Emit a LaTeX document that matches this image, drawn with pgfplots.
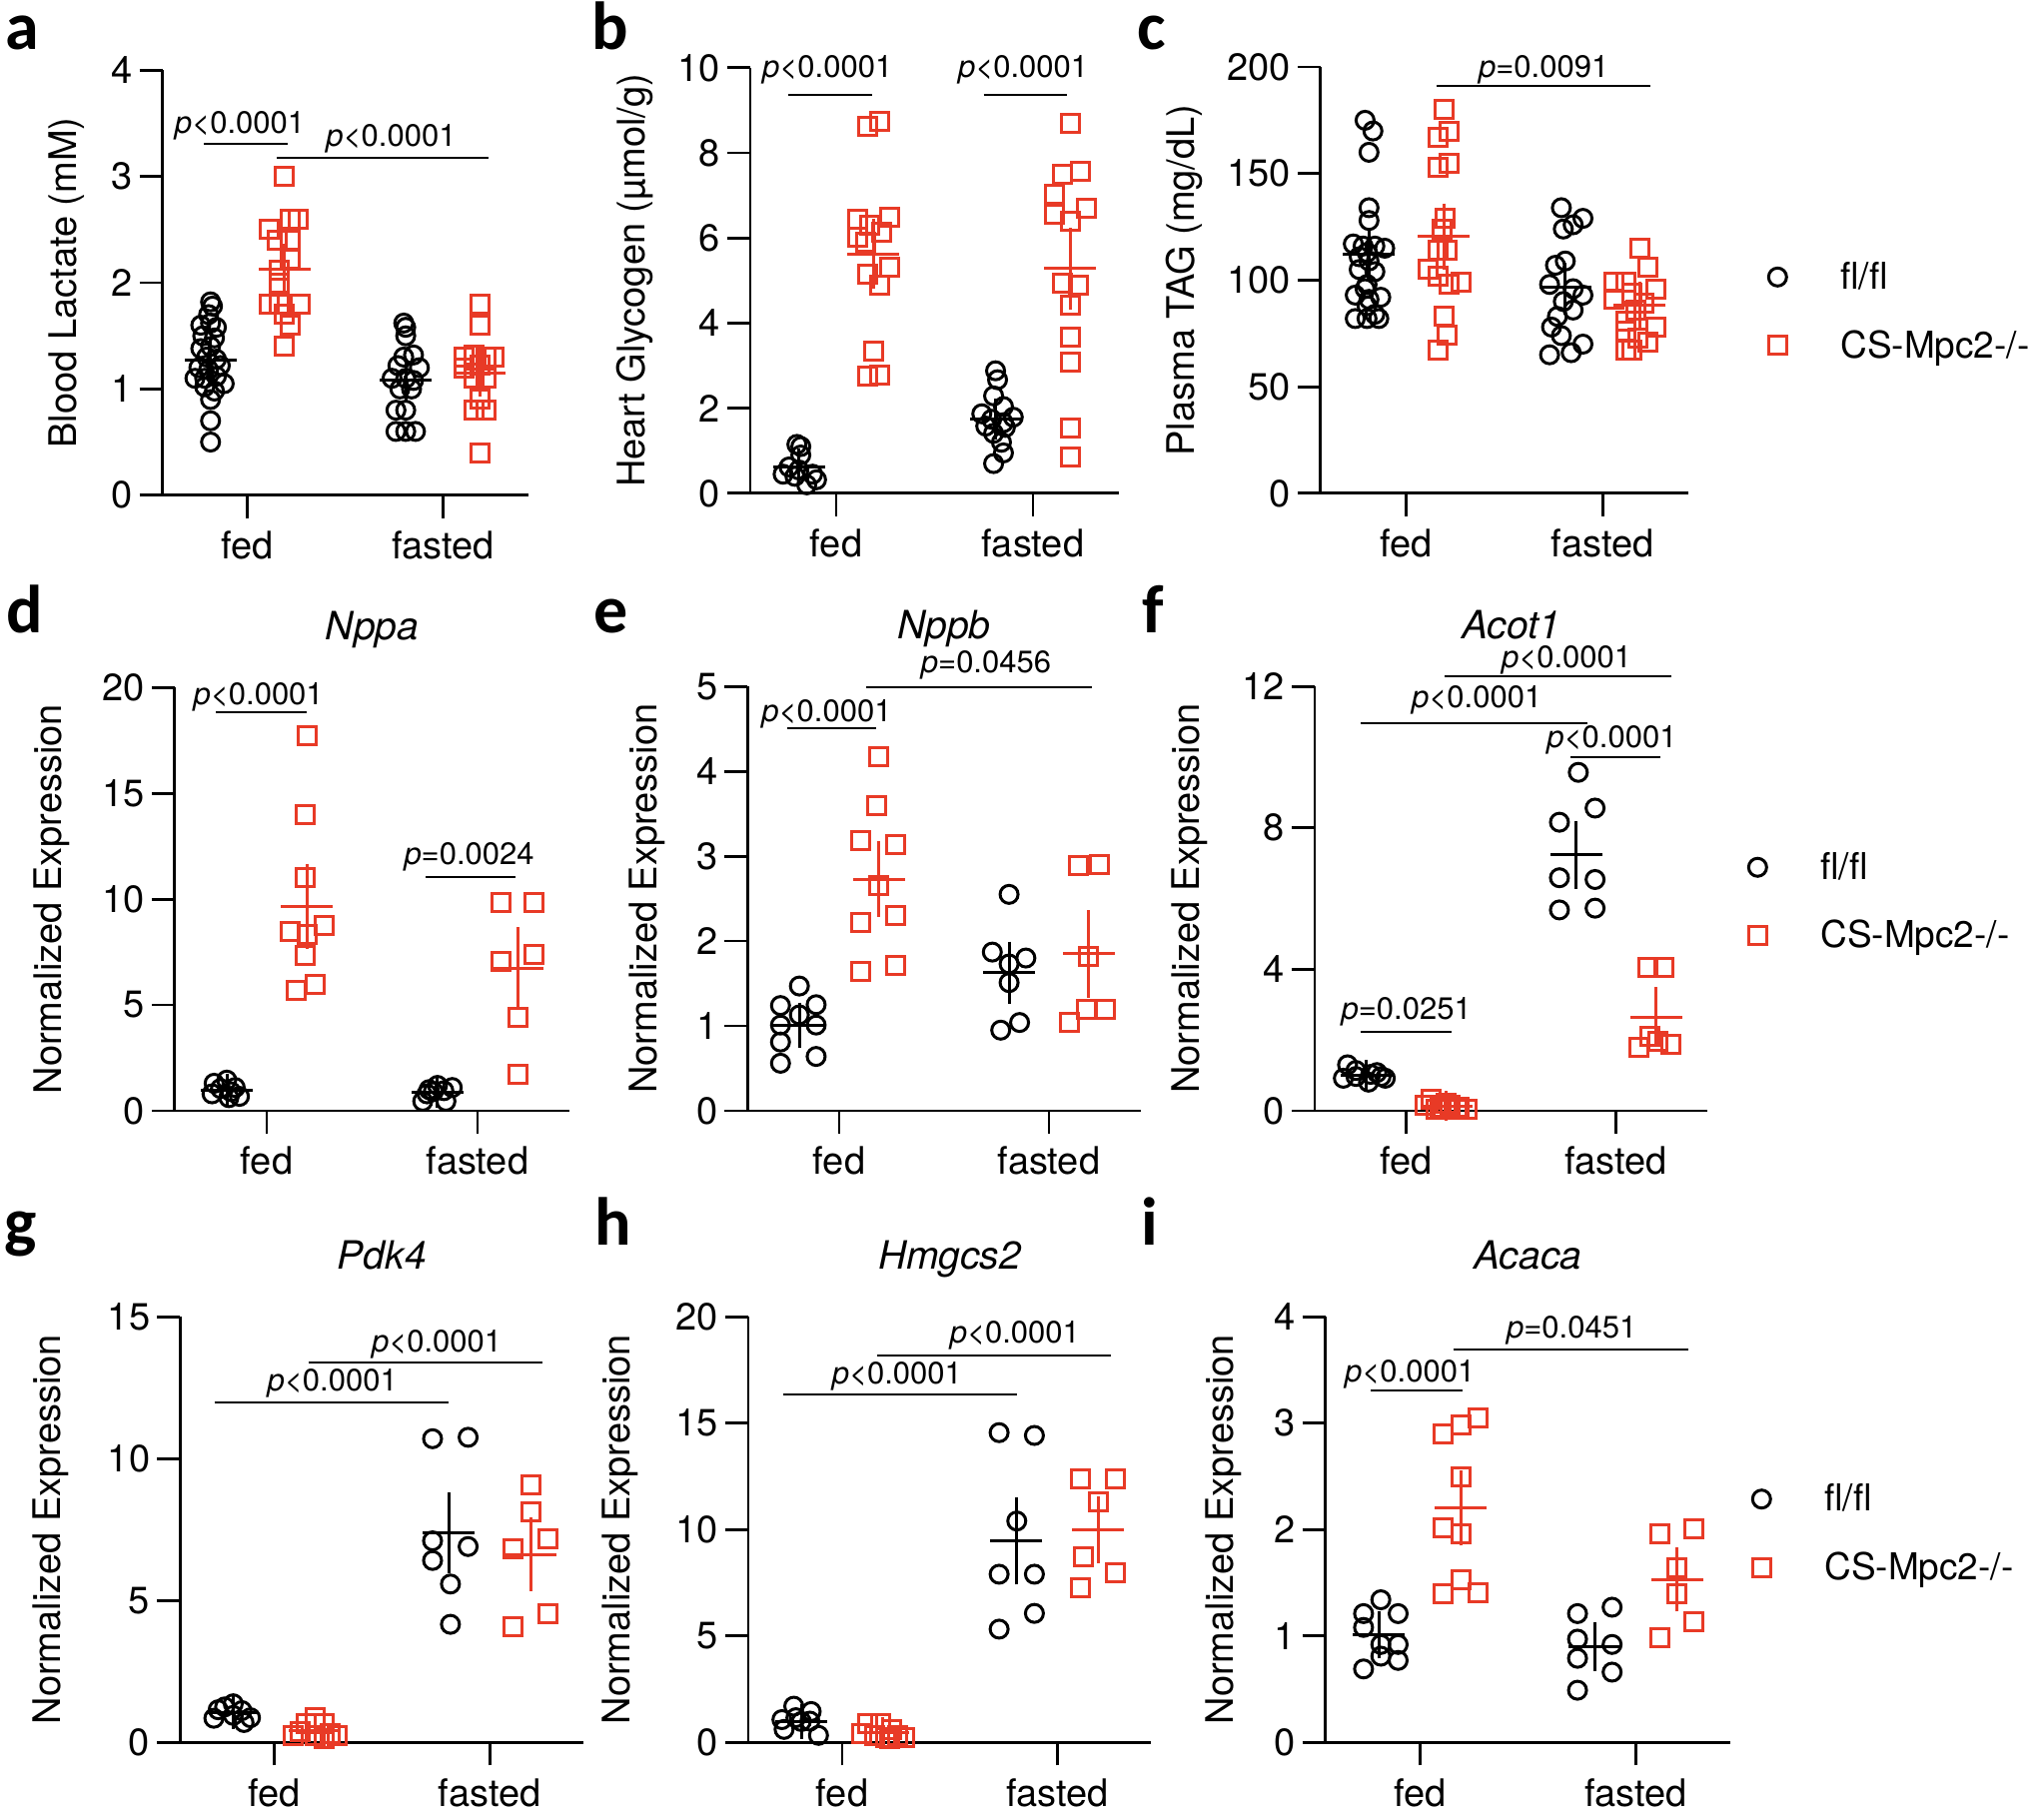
\documentclass[border=0pt]{standalone}
\usepackage{fontspec}
\setmainfont{TeX Gyre Heros}
\newfontfamily\letterfont{Carlito}
\usepackage{pgfplots}
\pgfplotsset{compat=1.18}
\definecolor{ko}{RGB}{232,58,38}
\pgfplotsset{
 panel/.style={scale only axis, anchor=south west, xmin=0.563, xmax=2.437, ymin=0,
  axis lines=left, axis line style={-, line width=1.4pt},
  tick align=outside, major tick length=11.5pt, tick style={line width=1.4pt, black},
  xtick={1,2}, xticklabels={fed,fasted},
  ticklabel style={font=\fontsize{19pt}{22.8pt}\selectfont},
  xticklabel style={yshift=-3pt},
  /pgf/number format/assume math mode=true,
  every axis y label/.style={rotate=90, anchor=base, font=\fontsize{19pt}{22.8pt}\selectfont},
  title style={at={(0.5,1)}, anchor=base, yshift=18pt, font=\itshape\fontsize{19.5pt}{23pt}\selectfont},
  clip=false},
 flfl/.style={only marks, mark=o, mark size=4.5pt, black, mark options={line width=1.5pt},
  legend image code/.code={\draw[mark repeat=2,mark phase=2,##1] plot coordinates {(0pt,0pt)(10pt,0pt)(20pt,0pt)};}},
 kos/.style={only marks, mark=square, mark size=4.5pt, ko, mark options={line width=1.5pt},
  legend image code/.code={\draw[mark repeat=2,mark phase=2,##1] plot coordinates {(0pt,0pt)(10pt,0pt)(20pt,0pt)};}},
 meanbk/.style={forget plot, only marks, mark=-, mark size=13pt, black, mark options={line width=1.5pt},
  error bars/.cd, y dir=both, y explicit, error bar style={line width=1.5pt, black}, error mark=-, error mark options={mark size=7pt, line width=1.5pt, black}},
 meanko/.style={forget plot, only marks, mark=-, mark size=13pt, ko, mark options={line width=1.5pt},
  error bars/.cd, y dir=both, y explicit, error bar style={line width=1.5pt, ko}, error mark=-, error mark options={mark size=7pt, line width=1.5pt, ko}},
 sig/.style={forget plot, black, line width=1pt, mark=none},
 leg/.style={legend style={draw=none, fill=none, inner sep=0pt, anchor=west, at={#1},
  font=\fontsize{18.5pt}{22pt}\selectfont, row sep=15pt, cells={anchor=west},
  /tikz/every odd column/.append style={column sep=25pt}}},
}
\tikzset{ptext/.style={anchor=base, inner sep=0pt, font=\fontsize{15.5pt}{18pt}\selectfont},
 letter/.style={anchor=base west, inner sep=0pt, font=\letterfont\bfseries\fontsize{34pt}{40pt}\selectfont}}
\begin{document}
\begin{tikzpicture}
\path[use as bounding box] (0,0) rectangle (1023pt,908.5pt);
% ---------- a
\begin{axis}[panel, at={(81.25pt,660.65pt)}, width=183.05pt, height=212.65pt, ymax=4, ytick={0,1,2,3,4},
 ylabel={Blood Lactate (mM)}, ylabel style={at={([xshift=-42.75pt]axis description cs:0,0.5)}}]
\addplot[flfl] coordinates {(0.81,1.82) (0.82,1.78) (0.80,1.70) (0.76,1.60) (0.81,1.62) (0.84,1.58) (0.77,1.50) (0.83,1.48) (0.81,1.40) (0.76,1.38) (0.79,1.30) (0.84,1.28) (0.75,1.20) (0.80,1.18) (0.86,1.22) (0.73,1.10) (0.78,1.10) (0.84,1.12) (0.88,1.05) (0.78,1.02) (0.83,0.98) (0.81,0.90) (0.81,0.70) (0.81,0.50)
 (1.80,1.62) (1.81,1.58) (1.81,1.50) (1.80,1.30) (1.85,1.32) (1.88,1.20) (1.77,1.22) (1.74,1.10) (1.81,1.10) (1.85,1.08) (1.78,1.00) (1.84,1.00) (1.81,0.80) (1.76,0.80) (1.81,0.60) (1.76,0.60) (1.86,0.60)};
\addplot[kos] coordinates {(1.19,3.0) (1.26,2.6) (1.22,2.6) (1.11,2.5) (1.15,2.4) (1.22,2.4) (1.22,2.22) (1.16,2.12) (1.16,2.0) (1.11,1.8) (1.16,1.8) (1.27,1.8) (1.19,1.7) (1.22,1.6) (1.19,1.4)
 (2.19,1.80) (2.19,1.60) (2.26,1.30) (2.11,1.30) (2.16,1.32) (2.22,1.30) (2.11,1.20) (2.19,1.22) (2.16,1.10) (2.22,1.10) (2.19,0.90) (2.16,0.80) (2.22,0.80) (2.19,0.40)};
\addplot[meanbk] coordinates {(0.81,1.27) +- (0,0.07) (1.81,1.08) +- (0,0.07)};
\addplot[meanko] coordinates {(1.19,2.13) +- (0,0.11) (2.19,1.15) +- (0,0.09)};
\addplot[sig] coordinates {(0.775,3.31) (1.205,3.31)};
\addplot[sig] coordinates {(1.15,3.18) (2.234,3.18)};
\node[ptext] at (axis cs:0.96,3.41) {\textit{p}<0.0001};
\node[ptext] at (axis cs:1.735,3.28) {\textit{p}<0.0001};
\end{axis}
% ---------- b
\begin{axis}[panel, at={(375.5pt,661.55pt)}, width=184.5pt, height=213pt, ymax=10, ytick={0,2,4,6,8,10},
 ylabel={Heart Glycogen (µmol/g)}, ylabel style={at={([xshift=-53pt]axis description cs:0,0.5)}}]
\addplot[flfl] coordinates {(0.80,1.15) (0.82,1.10) (0.82,0.90) (0.76,0.62) (0.81,0.55) (0.73,0.45) (0.88,0.45) (0.79,0.40) (0.90,0.32) (0.85,0.20)
 (1.81,2.88) (1.82,2.67) (1.80,2.29) (1.85,2.04) (1.74,1.87) (1.90,1.79) (1.79,1.74) (1.85,1.66) (1.76,1.58) (1.86,1.55) (1.80,1.41) (1.84,1.20) (1.85,0.95) (1.80,0.70)};
\addplot[kos] coordinates {(1.22,8.74) (1.16,8.62) (1.27,6.48) (1.11,6.44) (1.17,6.31) (1.23,6.14) (1.11,6.02) (1.15,5.89) (1.27,5.31) (1.16,5.14) (1.22,4.89) (1.19,3.34) (1.22,2.79) (1.16,2.75)
 (2.19,8.70) (2.24,7.57) (2.15,7.49) (2.11,7.03) (2.27,6.69) (2.11,6.56) (2.19,6.40) (2.15,4.93) (2.23,4.89) (2.19,4.43) (2.19,3.67) (2.19,3.08) (2.19,1.53) (2.19,0.86)};
\addplot[meanbk] coordinates {(0.81,0.63) +- (0,0.1) (1.81,1.74) +- (0,0.15)};
\addplot[meanko] coordinates {(1.19,5.63) +- (0,0.5) (2.19,5.28) +- (0,0.63)};
\addplot[sig] coordinates {(0.756,9.37) (1.181,9.37)};
\addplot[sig] coordinates {(1.75,9.37) (2.175,9.37)};
\node[ptext] at (axis cs:0.955,9.77) {\textit{p}<0.0001};
\node[ptext] at (axis cs:1.95,9.77) {\textit{p}<0.0001};
\end{axis}
% ---------- c
\begin{axis}[panel, at={(660.9pt,661.55pt)}, width=184.1pt, height=213.4pt, ymax=200, ytick={0,50,100,150,200},
 ylabel={Plasma TAG (mg/dL)}, ylabel style={at={([xshift=-63pt]axis description cs:0,0.5)}},
 leg={(1.217,0.427)}]
\addplot[flfl] coordinates {(0.79,175) (0.83,170) (0.81,160) (0.81,134) (0.81,128) (0.73,117) (0.78,116) (0.84,116) (0.89,115) (0.80,113) (0.76,111) (0.81,109) (0.76,105) (0.84,104) (0.80,98) (0.79,96) (0.74,93) (0.87,92) (0.81,91) (0.80,88) (0.84,84) (0.74,82) (0.80,82) (0.86,82)
 (1.79,134) (1.90,129) (1.85,126) (1.80,124) (1.81,109) (1.76,107) (1.73,98) (1.85,96) (1.90,93) (1.80,90) (1.85,86) (1.77,83) (1.74,78) (1.79,74) (1.90,70) (1.73,65) (1.84,66)};
\addplot[kos] coordinates {(1.19,180) (1.22,170) (1.16,167) (1.22,155) (1.16,153) (1.20,129) (1.18,124) (1.21,114) (1.16,114) (1.11,105) (1.16,102) (1.28,99) (1.22,98) (1.19,83) (1.21,74) (1.16,67)
 (2.19,115) (2.23,106) (2.06,99) (2.12,99) (2.27,96) (2.15,94) (2.06,91) (2.21,89) (2.17,86) (2.12,81) (2.27,78) (2.12,76) (2.23,71) (2.18,73) (2.15,67) (2.12,67)};
\addlegendentry{fl/fl}
\addlegendentry{CS-Mpc2-/-}
\addplot[meanbk] coordinates {(0.81,112) +- (0,4.5) (1.81,96.7) +- (0,5)};
\addplot[meanko] coordinates {(1.19,120.5) +- (0,9) (2.19,88.4) +- (0,4.5)};
\addplot[sig] coordinates {(1.155,191) (2.245,191)};
\node[ptext] at (axis cs:1.7,195) {\textit{p}=0.0091};
\end{axis}
% ---------- d
\begin{axis}[panel, at={(87.45pt,352.5pt)}, width=197.65pt, height=211.85pt, ymax=20, ytick={0,5,10,15,20},
 title={Nppa}, ylabel={Normalized Expression}, ylabel style={at={([xshift=-56.85pt]axis description cs:0,0.5)}}]
\addplot[flfl] coordinates {(0.81,1.45) (0.75,1.30) (0.85,1.10) (0.78,1.05) (0.83,0.90) (0.74,0.80) (0.87,0.68) (0.82,0.62)
 (1.81,1.20) (1.88,1.10) (1.77,1.00) (1.84,0.95) (1.79,0.90) (1.76,0.80) (1.74,0.45) (1.85,0.45)};
\addplot[kos] coordinates {(1.19,17.74) (1.18,14.0) (1.18,11.02) (1.11,8.49) (1.27,8.76) (1.19,8.31) (1.18,7.32) (1.23,5.96) (1.14,5.69)
 (2.11,9.85) (2.27,9.85) (2.11,7.08) (2.27,7.41) (2.19,4.43) (2.19,1.72)};
\addplot[meanbk] coordinates {(0.81,0.99) +- (0,0.1) (1.81,0.88) +- (0,0.1)};
\addplot[meanko] coordinates {(1.19,9.67) +- (0,1.35) (2.19,6.72) +- (0,1.3)};
\addplot[sig] coordinates {(0.759,18.83) (1.188,18.83)};
\addplot[sig] coordinates {(1.754,11.06) (2.182,11.06)};
\node[ptext] at (axis cs:0.96,19.2) {\textit{p}<0.0001};
\node[ptext] at (axis cs:1.96,11.65) {\textit{p}=0.0024};
\end{axis}
% ---------- e
\begin{axis}[panel, at={(374.15pt,352.5pt)}, width=196.7pt, height=212.4pt, ymax=5, ytick={0,1,2,3,4,5},
 title={Nppb}, ylabel={Normalized Expression}, ylabel style={at={([xshift=-45.35pt]axis description cs:0,0.5)}}]
\addplot[flfl] coordinates {(0.81,1.47) (0.72,1.24) (0.89,1.25) (0.81,1.13) (0.72,1.01) (0.89,1.01) (0.72,0.81) (0.89,0.64) (0.72,0.56)
 (1.81,2.55) (1.73,1.87) (1.89,1.80) (1.81,1.73) (1.81,1.51) (1.86,1.04) (1.77,0.95)};
\addplot[kos] coordinates {(1.19,4.17) (1.18,3.6) (1.10,3.18) (1.27,3.14) (1.19,2.66) (1.10,2.22) (1.27,2.30) (1.10,1.64) (1.27,1.71)
 (2.14,2.89) (2.24,2.90) (2.19,1.82) (2.10,1.04) (2.18,1.19) (2.27,1.19)};
\addplot[meanbk] coordinates {(0.81,1.01) +- (0,0.1) (1.81,1.63) +- (0,0.2)};
\addplot[meanko] coordinates {(1.19,2.73) +- (0,0.28) (2.19,1.85) +- (0,0.35)};
\addplot[sig] coordinates {(0.75,4.51) (1.177,4.51)};
\addplot[sig] coordinates {(1.128,4.99) (2.207,4.99)};
\node[ptext] at (axis cs:0.94,4.59) {\textit{p}<0.0001};
\node[ptext] at (axis cs:1.70,5.16) {\textit{p}=0.0456};
\end{axis}
% ---------- f
\begin{axis}[panel, at={(657.95pt,352.5pt)}, width=196.75pt, height=212.4pt, ymax=12, ytick={0,4,8,12},
 title={Acot1}, ylabel={Normalized Expression}, ylabel style={at={([xshift=-57.75pt]axis description cs:0,0.5)}},
 leg={(1.103,0.493)}]
\addplot[flfl] coordinates {(0.72,1.30) (0.76,1.14) (0.83,1.03) (0.70,0.92) (0.88,0.97) (0.82,0.81) (0.90,0.92) (0.76,0.97) (0.86,1.08)
 (1.82,9.57) (1.90,8.56) (1.73,8.16) (1.73,6.59) (1.90,6.54) (1.73,5.68) (1.90,5.73)};
\addplot[kos] coordinates {(1.12,0.32) (1.09,0.16) (1.16,0.11) (1.21,0.16) (1.25,0.11) (1.29,0.05) (1.14,0.05) (1.24,0.05) (1.19,0.20)
 (2.15,4.05) (2.23,4.05) (2.11,1.78) (2.16,2.11) (2.20,1.95) (2.26,1.89)};
\addlegendentry{fl/fl}
\addlegendentry{CS-Mpc2-/-}
\addplot[meanbk] coordinates {(0.81,1.0) +- (0,0.05) (1.81,7.24) +- (0,0.57)};
\addplot[meanko] coordinates {(1.19,0.13) +- (0,0.03) (2.19,2.65) +- (0,0.45)};
\addplot[sig] coordinates {(0.782,2.24) (1.215,2.24)};
\addplot[sig] coordinates {(1.782,10.0) (2.209,10.0)};
\addplot[sig] coordinates {(0.782,10.95) (1.864,10.95)};
\addplot[sig] coordinates {(1.182,12.3) (2.264,12.3)};
\node[ptext] at (axis cs:1.0,2.59) {\textit{p}=0.0251};
\node[ptext] at (axis cs:1.98,10.27) {\textit{p}<0.0001};
\node[ptext] at (axis cs:1.336,11.4) {\textit{p}<0.0001};
\node[ptext] at (axis cs:1.764,12.52) {\textit{p}<0.0001};
\end{axis}
% ---------- g
\begin{axis}[panel, at={(90.1pt,36.35pt)}, width=202.1pt, height=213.1pt, ymax=15, ytick={0,5,10,15},
 title={Pdk4}, ylabel={Normalized Expression}, ylabel style={at={([xshift=-59.6pt]axis description cs:0,0.5)}}]
\addplot[flfl] coordinates {(0.81,1.36) (0.77,1.25) (0.74,1.15) (0.85,1.12) (0.72,0.85) (0.89,0.87) (0.81,0.95) (0.86,0.70)
 (1.735,10.7) (1.90,10.75) (1.735,7.1) (1.90,6.9) (1.735,6.41) (1.818,5.58) (1.818,4.16)};
\addplot[kos] coordinates {(1.19,0.87) (1.15,0.66) (1.23,0.66) (1.12,0.39) (1.19,0.25) (1.26,0.32) (1.29,0.25) (1.09,0.25) (1.23,0.15)
 (2.19,9.07) (2.19,8.14) (2.11,6.83) (2.27,7.17) (2.11,4.09) (2.27,4.54)};
\addplot[meanbk] coordinates {(0.81,1.05) +- (0,0.08) (1.81,7.38) +- (0,0.94)};
\addplot[meanko] coordinates {(1.19,0.42) +- (0,0.09) (2.19,6.62) +- (0,0.8)};
\addplot[sig] coordinates {(0.723,11.98) (1.808,11.98)};
\addplot[sig] coordinates {(1.16,13.38) (2.243,13.38)};
\node[ptext] at (axis cs:1.27,12.37) {\textit{p}<0.0001};
\node[ptext] at (axis cs:1.754,13.75) {\textit{p}<0.0001};
\end{axis}
% ---------- h
\begin{axis}[panel, at={(374.45pt,36.35pt)}, width=201.7pt, height=213.1pt, ymax=20, ytick={0,5,10,15,20},
 title={Hmgcs2}, ylabel={Normalized Expression}, ylabel style={at={([xshift=-59.05pt]axis description cs:0,0.5)}}]
\addplot[flfl] coordinates {(0.775,1.70) (0.856,1.45) (0.72,1.07) (0.81,0.98) (0.89,0.33) (0.73,0.61) (0.785,1.16) (0.85,1.00)
 (1.73,14.55) (1.894,14.42) (1.812,10.4) (1.73,7.9) (1.894,7.9) (1.894,6.06) (1.73,5.32)};
\addplot[kos] coordinates {(1.12,0.89) (1.18,0.89) (1.23,0.61) (1.09,0.42) (1.15,0.33) (1.20,0.24) (1.26,0.30) (1.29,0.24) (1.22,0.20)
 (2.11,12.39) (2.27,12.39) (2.19,11.32) (2.12,8.70) (2.27,7.96) (2.11,7.26)};
\addplot[meanbk] coordinates {(0.81,0.98) +- (0,0.15) (1.81,9.47) +- (0,1.4)};
\addplot[meanko] coordinates {(1.19,0.45) +- (0,0.09) (2.19,9.99) +- (0,0.92)};
\addplot[sig] coordinates {(0.726,16.36) (1.812,16.36)};
\addplot[sig] coordinates {(1.164,18.19) (2.25,18.19)};
\node[ptext] at (axis cs:1.255,16.86) {\textit{p}<0.0001};
\node[ptext] at (axis cs:1.803,18.74) {\textit{p}<0.0001};
\end{axis}
% ---------- i
\begin{axis}[panel, at={(663.3pt,36.35pt)}, width=202.7pt, height=213.1pt, ymax=4, ytick={0,1,2,3,4},
 title={Acaca}, ylabel={Normalized Expression}, ylabel style={at={([xshift=-46.25pt]axis description cs:0,0.5)}},
 leg={(1.054,0.491)}]
\addplot[flfl] coordinates {(0.82,1.34) (0.74,1.21) (0.90,1.21) (0.74,1.08) (0.82,0.92) (0.90,0.92) (0.82,0.81) (0.90,0.77) (0.74,0.69)
 (1.73,1.21) (1.89,1.27) (1.73,0.97) (1.89,0.92) (1.73,0.79) (1.89,0.66) (1.73,0.49)};
\addplot[kos] coordinates {(1.11,2.90) (1.19,2.98) (1.27,3.05) (1.19,2.49) (1.11,2.02) (1.19,1.96) (1.19,1.53) (1.11,1.40) (1.27,1.41)
 (2.11,1.96) (2.27,2.01) (2.19,1.64) (2.19,1.40) (2.27,1.13) (2.11,0.98)};
\addlegendentry{fl/fl}
\addlegendentry{CS-Mpc2-/-}
\addplot[meanbk] coordinates {(0.81,1.01) +- (0,0.09) (1.81,0.90) +- (0,0.1)};
\addplot[meanko] coordinates {(1.19,2.20) +- (0,0.22) (2.19,1.53) +- (0,0.17)};
\addplot[sig] coordinates {(0.772,3.31) (1.2,3.31)};
\addplot[sig] coordinates {(1.155,3.69) (2.241,3.69)};
\node[ptext] at (axis cs:0.954,3.39) {\textit{p}<0.0001};
\node[ptext] at (axis cs:1.703,3.80) {\textit{p}=0.0451};
\end{axis}
% panel letters
\node[letter] at (2.5pt,883.5pt) {a};
\node[letter] at (296pt,883.5pt) {b};
\node[letter] at (569pt,883.5pt) {c};
\node[letter] at (3pt,591.5pt) {d};
\node[letter] at (297pt,591.5pt) {e};
\node[letter] at (571.5pt,591.5pt) {f};
\node[letter] at (2pt,285pt) {g};
\node[letter] at (297.5pt,285pt) {h};
\node[letter] at (571pt,285pt) {i};
\end{tikzpicture}
\end{document}
